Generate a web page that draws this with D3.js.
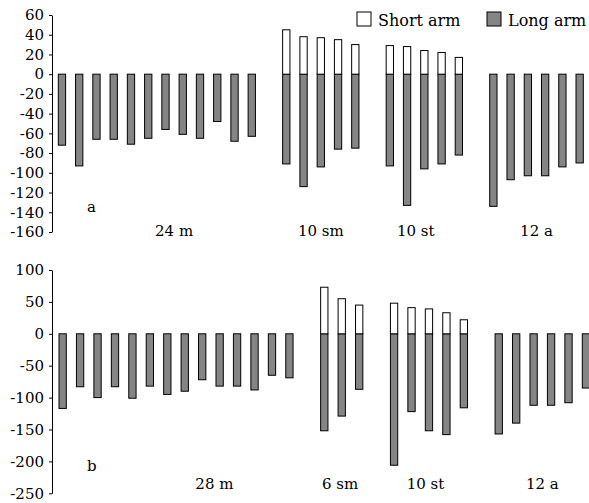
<!DOCTYPE html>
<html lang="en">
<head>
<meta charset="UTF-8">
<title>Chromosome arms</title>
<script src="https://cdn.jsdelivr.net/npm/d3@7/dist/d3.min.js"></script>
<style>
    body { margin: 0; background: #fff; }
    svg { display: block; }
    text { font-family: "DejaVu Serif", serif; fill: #000; }
    .axis text { font-size: 15px; }
    .axis path, .axis line { stroke: #000; stroke-width: 1; }
    .bar { stroke: #000; stroke-width: 1; }
</style>
</head>
<body>
<div id="chart"></div>
<script>
// panel a
var groupsA = ["24 m", "10 sm", "10 st", "12 a"];
var shortA = [
    [],
    [45, 38, 37, 35, 30],
    [29, 28, 24, 22, 17],
    []
];
var longA = [
    [-72, -93, -66, -66, -71, -65, -56, -61, -65, -48, -68, -63],
    [-91, -114, -94, -76, -75],
    [-93, -133, -96, -91, -82],
    [-134, -107, -103, -103, -94, -90]
];
var ticksA = [60, 40, 20, 0, -20, -40, -60, -80, -100, -120, -140, -160];

// panel b
var groupsB = ["28 m", "6 sm", "10 st", "12 a"];
var shortB = [
    [],
    [73, 55, 45],
    [48, 41, 39, 33, 22],
    []
];
var longB = [
    [-117, -83, -100, -83, -101, -82, -95, -90, -72, -82, -82, -88, -65, -69],
    [-152, -129, -87],
    [-206, -122, -152, -158, -116],
    [-157, -140, -112, -112, -108, -85]
];
var ticksB = [100, 50, 0, -50, -100, -150, -200, -250];

var legendLabels = ["Short arm", "Long arm"];

var W = 589, H = 503;
var barW = 7.3;
var grey = "#858585";

var svg = d3.select("#chart").append("svg")
    .attr("width", W)
    .attr("height", H);

// lay groups out on slots, one empty slot between groups
function slots(shorts, longs) {
    var out = [], s = 0;
    longs.forEach(function(g, gi) {
        g.forEach(function(v, i) {
            out.push({ slot: s, group: gi, long: v, short: shorts[gi][i] || 0 });
            s++;
        });
        s++;
    });
    return out;
}

function panel(cfg) {
    var bars = slots(cfg.shorts, cfg.longs);
    var x = d3.scaleLinear().domain([0, 30]).range(cfg.xRange);
    var y = d3.scaleLinear().domain(cfg.yDomain).range(cfg.yRange);

    var g = svg.append("g");

    // plain hyphen for negatives, like the original
    g.append("g")
        .attr("class", "axis")
        .attr("transform", "translate(" + cfg.axisX + ",0)")
        .call(d3.axisLeft(y).tickValues(cfg.ticks).tickFormat(String)
            .tickSize(3).tickSizeOuter(0).tickPadding(5))
        .call(function(s) { s.selectAll("text").style("font-family", "DejaVu Serif"); });

    g.selectAll("rect.long").data(bars).enter().append("rect")
        .attr("class", "bar long")
        .attr("x", function(d) { return x(d.slot); })
        .attr("width", barW)
        .attr("y", y(0))
        .attr("height", function(d) { return y(d.long) - y(0); })
        .style("fill", grey);

    g.selectAll("rect.short").data(bars.filter(function(d) { return d.short > 0; })).enter().append("rect")
        .attr("class", "bar short")
        .attr("x", function(d) { return x(d.slot); })
        .attr("width", barW)
        .attr("y", function(d) { return y(d.short); })
        .attr("height", function(d) { return y(0) - y(d.short); })
        .style("fill", "#fff");

    g.selectAll("text.group").data(cfg.groups).enter().append("text")
        .attr("class", "group")
        .attr("x", function(d, i) { return x(cfg.labelSlot[i]) + barW / 2; })
        .attr("y", cfg.labelY)
        .attr("text-anchor", "middle")
        .style("font-size", "15px")
        .text(function(d) { return d; });

    g.append("text")
        .attr("x", cfg.tag[1])
        .attr("y", cfg.tag[2])
        .style("font-size", "15px")
        .text(cfg.tag[0]);
}

panel({
    shorts: shortA, longs: longA, groups: groupsA, ticks: ticksA,
    xRange: [58.3, 576], yDomain: [-160, 60], yRange: [232, 15], axisX: 52,
    labelSlot: [6.5, 15, 20.5, 27.5], labelY: 235.5,
    tag: ["a", 87, 212]
});

panel({
    shorts: shortB, longs: longB, groups: groupsB, ticks: ticksB,
    xRange: [59, 582.3], yDomain: [-250, 100], yRange: [493.3, 270], axisX: 52,
    labelSlot: [8.7, 15.9, 20.8, 27.5], labelY: 488.5,
    tag: ["b", 87, 471]
});

// legend
var legend = svg.append("g");
var lx = [357, 487];
legendLabels.forEach(function(lab, i) {
    legend.append("rect")
        .attr("x", lx[i]).attr("y", 12)
        .attr("width", 14).attr("height", 14)
        .attr("stroke", "#000").attr("stroke-width", 1)
        .style("fill", i === 0 ? "#fff" : grey);
    legend.append("text")
        .attr("x", lx[i] + 21).attr("y", 25.5)
        .style("font-size", "16px")
        .text(lab);
});
</script>
</body>
</html>
